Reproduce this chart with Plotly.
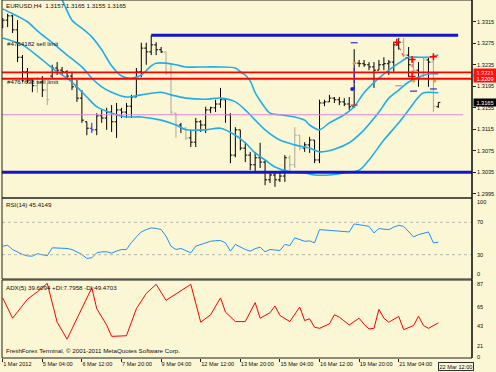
import plotly.graph_objects as go

W, H = 496, 372
FONT = "Liberation Sans"
BG = "#FBF6D3"

TITLE = "EURUSD,H4  1.3157 1.3165 1.3155 1.3165"

# ---------------- price bars (H4) ----------------
BAR = list(range(89))
OPEN = [1.3305, 1.3318, 1.3326, 1.3300, 1.3249, 1.3222, 1.3207, 1.3196, 1.3203, 1.3188,
        1.3214, 1.3229, 1.3225, 1.3222, 1.3214, 1.3194, 1.3173, 1.3129, 1.3117, 1.3114,
        1.3140, 1.3136, 1.3147, 1.3129, 1.3151, 1.3147, 1.3158, 1.3175, 1.3222, 1.3266,
        1.3259, 1.3272, 1.3263, 1.3259, 1.3220, 1.3145, 1.3123, 1.3117, 1.3099, 1.3091,
        1.3129, 1.3123, 1.3151, 1.3155, 1.3162, 1.3170, 1.3142, 1.3067, 1.3114, 1.3080,
        1.3067, 1.3049, 1.3062, 1.3054, 1.3021, 1.3030, 1.3021, 1.3028, 1.3062, 1.3049,
        1.3104, 1.3080, 1.3086, 1.3095, 1.3058, 1.3164, 1.3166, 1.3173, 1.3170, 1.3166,
        1.3162, 1.3157, 1.3238, 1.3237, 1.3235, 1.3231, 1.3225, 1.3235, 1.3237, 1.3240,
        1.3272, 1.3277, 1.3253, 1.3235, 1.3225, 1.3216, 1.3244, 1.3240, 1.3157]
HIGH = [1.3322, 1.3330, 1.3328, 1.3318, 1.3253, 1.3229, 1.3210, 1.3212, 1.3214, 1.3201,
        1.3235, 1.3240, 1.3231, 1.3225, 1.3222, 1.3207, 1.3188, 1.3129, 1.3127, 1.3145,
        1.3151, 1.3155, 1.3160, 1.3164, 1.3155, 1.3164, 1.3179, 1.3229, 1.3276, 1.3276,
        1.3290, 1.3277, 1.3268, 1.3259, 1.3235, 1.3145, 1.3127, 1.3119, 1.3114, 1.3136,
        1.3132, 1.3157, 1.3157, 1.3170, 1.3192, 1.3170, 1.3145, 1.3119, 1.3114, 1.3091,
        1.3073, 1.3073, 1.3090, 1.3058, 1.3036, 1.3036, 1.3034, 1.3067, 1.3067, 1.3119,
        1.3104, 1.3091, 1.3101, 1.3095, 1.3170, 1.3170, 1.3179, 1.3175, 1.3175, 1.3173,
        1.3175, 1.3264, 1.3244, 1.3244, 1.3240, 1.3240, 1.3244, 1.3249, 1.3244, 1.3277,
        1.3285, 1.3285, 1.3268, 1.3248, 1.3240, 1.3249, 1.3249, 1.3253, 1.3165]
LOW = [1.3303, 1.3305, 1.3294, 1.3240, 1.3203, 1.3201, 1.3184, 1.3183, 1.3175, 1.3160,
       1.3210, 1.3216, 1.3216, 1.3210, 1.3188, 1.3166, 1.3127, 1.3104, 1.3108, 1.3104,
       1.3127, 1.3114, 1.3110, 1.3099, 1.3136, 1.3136, 1.3136, 1.3175, 1.3212, 1.3235,
       1.3253, 1.3253, 1.3257, 1.3216, 1.3142, 1.3099, 1.3108, 1.3095, 1.3082, 1.3082,
       1.3110, 1.3108, 1.3145, 1.3147, 1.3155, 1.3127, 1.3052, 1.3063, 1.3076, 1.3054,
       1.3039, 1.3034, 1.3043, 1.3011, 1.3015, 1.3008, 1.3017, 1.3017, 1.3036, 1.3043,
       1.3076, 1.3073, 1.3071, 1.3052, 1.3052, 1.3158, 1.3166, 1.3164, 1.3160, 1.3158,
       1.3151, 1.3155, 1.3231, 1.3231, 1.3225, 1.3192, 1.3225, 1.3225, 1.3216, 1.3222,
       1.3263, 1.3249, 1.3212, 1.3216, 1.3194, 1.3212, 1.3194, 1.3147, 1.3155]
CLOSE = [1.3318, 1.3326, 1.3300, 1.3249, 1.3222, 1.3207, 1.3196, 1.3203, 1.3188, 1.3170,
         1.3229, 1.3225, 1.3222, 1.3214, 1.3194, 1.3173, 1.3132, 1.3117, 1.3114, 1.3140,
         1.3136, 1.3147, 1.3129, 1.3151, 1.3147, 1.3158, 1.3175, 1.3222, 1.3266, 1.3259,
         1.3272, 1.3263, 1.3259, 1.3220, 1.3147, 1.3123, 1.3117, 1.3099, 1.3091, 1.3129,
         1.3123, 1.3151, 1.3155, 1.3162, 1.3170, 1.3142, 1.3067, 1.3114, 1.3080, 1.3067,
         1.3049, 1.3062, 1.3054, 1.3021, 1.3030, 1.3021, 1.3028, 1.3062, 1.3049, 1.3104,
         1.3080, 1.3086, 1.3095, 1.3058, 1.3164, 1.3166, 1.3173, 1.3170, 1.3166, 1.3162,
         1.3157, 1.3238, 1.3237, 1.3235, 1.3231, 1.3225, 1.3235, 1.3237, 1.3240, 1.3272,
         1.3277, 1.3253, 1.3235, 1.3225, 1.3210, 1.3244, 1.3240, 1.3158, 1.3165]
GRAY_BARS = [7, 9, 33, 34, 35, 37, 58, 59, 60, 81, 83, 85, 87]
BLUE_BARS = [18]

# ---------------- Bollinger bands (sampled at bars) ----------------
BB_UP_X = [11, 12, 14, 16, 18, 20, 22, 24, 26, 28, 30, 31, 33, 35, 37, 41, 44, 47, 48, 49,
           50, 51, 52, 53, 54, 56, 59, 61, 62, 64, 66, 69, 71, 73, 76, 78, 80, 82, 84, 86, 88]
BB_UP = [1.3372, 1.3356, 1.3318, 1.3303, 1.3287, 1.3263, 1.3233, 1.3214, 1.3210, 1.3216,
         1.3233, 1.3238, 1.3238, 1.3235, 1.3231, 1.3231, 1.3231, 1.3229, 1.3222, 1.3216,
         1.3205, 1.3183, 1.3168, 1.3155, 1.3145, 1.3142, 1.3138, 1.3132, 1.3123, 1.3114,
         1.3127, 1.3142, 1.3157, 1.3183, 1.3210, 1.3225, 1.3238, 1.3249, 1.3249, 1.3249, 1.3253]
BB_MID_X = [0, 2, 5, 7, 10, 13, 16, 18, 20, 22, 25, 28, 32, 34, 37, 41, 44, 47, 49, 51,
            53, 56, 59, 62, 64, 67, 70, 73, 76, 78, 80, 82, 84, 86, 88]
BB_MID = [1.3339, 1.3330, 1.3315, 1.3298, 1.3276, 1.3253, 1.3231, 1.3210, 1.3194, 1.3184,
          1.3175, 1.3179, 1.3184, 1.3179, 1.3173, 1.3171, 1.3173, 1.3166, 1.3151, 1.3132,
          1.3114, 1.3095, 1.3086, 1.3080, 1.3073, 1.3078, 1.3090, 1.3114, 1.3147, 1.3173,
          1.3188, 1.3203, 1.3212, 1.3218, 1.3218]
BB_LOW_X = [0, 4, 8, 11, 13, 15, 17, 19, 22, 25, 28, 32, 35, 37, 41, 44, 47, 49, 51, 53,
            55, 58, 61, 63, 66, 69, 72, 74, 77, 80, 82, 84, 85, 88]
BB_LOW = [1.3285, 1.3272, 1.3244, 1.3222, 1.3210, 1.3194, 1.3175, 1.3157, 1.3145, 1.3138,
          1.3138, 1.3132, 1.3123, 1.3114, 1.3114, 1.3117, 1.3104, 1.3090, 1.3071, 1.3058,
          1.3045, 1.3036, 1.3034, 1.3030, 1.3030, 1.3034, 1.3039, 1.3058, 1.3095, 1.3127,
          1.3151, 1.3175, 1.3183, 1.3183]

# ---------------- horizontal levels / objects ----------------
RESIST_LEVEL = 1.3290          # blue trendline (bars 30 .. 92)
RESIST_SPAN = [30, 92]
SUPPORT_LEVEL = 1.3035         # blue, full width
SELL_LIMITS = [1.3221, 1.3209]  # red order lines
PINK_LEVEL = 1.3142
PINK_SPAN = [-1, 93]
LAST_PRICE = 1.3165
ORDER_TEXTS = ["#4764182 sell limit", "#4767698 sell limit"]
ORDER_TEXT_PRICE = [1.3275, 1.3203]

# ---------------- RSI(14) ----------------
RSI = [40.5, 41.7, 36.4, 33.0, 30.3, 28.5, 28.2, 31.2, 30.0, 28.7,
       38.5, 38.5, 38.0, 37.7, 36.4, 33.0, 30.3, 25.4, 26.2, 32.4,
       33.5, 33.6, 31.9, 34.5, 36.4, 36.4, 45.0, 52.0, 58.1, 61.0,
       63.1, 62.5, 61.0, 52.8, 40.5, 36.4, 37.7, 35.0, 32.4, 40.5,
       42.6, 44.5, 46.6, 47.3, 47.5, 44.6, 34.4, 42.6, 39.3, 36.5,
       34.4, 37.5, 39.3, 33.6, 36.4, 35.8, 35.2, 42.6, 41.3, 50.8,
       48.5, 46.6, 47.0, 44.6, 61.0, 60.5, 60.1, 59.5, 59.0, 58.5,
       58.1, 68.0, 67.0, 66.3, 65.0, 56.9, 62.2, 61.5, 61.0, 64.0,
       66.3, 65.0, 58.0, 52.0, 54.8, 56.5, 58.1, 44.6, 45.4]
RSI_LEVELS = [70, 30]
RSI_TICKS = [100, 70, 30, 0]

# ---------------- ADX(5) ----------------
ADX_X = [0, 2, 5, 7, 9, 10, 11, 13, 16, 18, 19, 21, 22, 25, 27, 29, 31, 33, 38, 40,
         42, 44, 45, 47, 49, 51, 52, 54, 55, 56, 58, 60, 61, 62, 63, 64, 66, 67, 68, 70,
         72, 73, 74, 75, 76, 77, 78, 80, 81, 83, 84, 85, 86, 88]
ADX = [67.8, 44.9, 66.3, 74.7, 84.2, 63.0, 40.4, 21.3, 55.6, 79.2, 55.6, 37.3, 24.4, 25.1,
       55.6, 72.8, 83.1, 65.1, 83.1, 40.4, 48.8, 67.8, 51.8, 41.1, 41.1, 62.5, 44.9, 51.1,
       58.7, 48.0, 41.1, 57.5, 42.3, 44.2, 34.7, 33.5, 38.5, 48.8, 46.1, 37.3, 44.9, 38.0,
       32.8, 33.5, 54.9, 44.9, 40.4, 46.9, 32.0, 36.6, 47.2, 36.6, 33.5, 39.6]
ADX_TICKS = [87, 65, 43, 21, 0]

X_TICKS = [0, 8, 16, 24, 32, 40, 48, 56, 64, 72, 80, 88]
X_LABELS = ["1 Mar 2012", "5 Mar 04:00", "6 Mar 12:00", "7 Mar 20:00", "9 Mar 04:00",
            "12 Mar 12:00", "13 Mar 20:00", "15 Mar 04:00", "16 Mar 12:00",
            "19 Mar 20:00", "21 Mar 04:00", "22 Mar 12:00"]
PRICE_TICKS = [1.2995, 1.3035, 1.3075, 1.3115, 1.3155, 1.3195, 1.3235, 1.3275, 1.3315]

# ---------------- layout geometry (pixels) ----------------
PX_L, PX_R = 2, 472
MAIN_T, MAIN_B = 0, 198
RSI_T, RSI_B = 198, 279
ADX_T, ADX_B = 280, 358


def px(x):
    return x / W


def py(y):
    return 1 - y / H


fig = go.Figure()


def subset(idx):
    return ([BAR[i] for i in idx], [OPEN[i] for i in idx], [HIGH[i] for i in idx],
            [LOW[i] for i in idx], [CLOSE[i] for i in idx])


black_idx = [i for i in BAR if i not in GRAY_BARS and i not in BLUE_BARS]
for idx, col in [(black_idx, "#000000"), (GRAY_BARS, "#A9A99C"), (BLUE_BARS, "#1A1AE6")]:
    bx, bo, bh, bl, bc = subset(idx)
    fig.add_trace(go.Ohlc(x=bx, open=bo, high=bh, low=bl, close=bc, xaxis="x", yaxis="y",
                          tickwidth=0.4,
                          increasing=dict(line=dict(color=col, width=1)),
                          decreasing=dict(line=dict(color=col, width=1)),
                          showlegend=False, hoverinfo="skip"))

BB_COL = "#1FAEEA"
for bxs, bys in [(BB_UP_X, BB_UP), (BB_MID_X, BB_MID), (BB_LOW_X, BB_LOW)]:
    fig.add_trace(go.Scatter(x=bxs, y=bys, mode="lines", xaxis="x", yaxis="y",
                             line=dict(color=BB_COL, width=1.6, shape="spline", smoothing=0.8),
                             showlegend=False, hoverinfo="skip", cliponaxis=True))

# horizontal levels
fig.add_trace(go.Scatter(x=RESIST_SPAN, y=[RESIST_LEVEL] * 2, mode="lines", xaxis="x", yaxis="y",
                         line=dict(color="#1414C8", width=3), showlegend=False, hoverinfo="skip"))
fig.add_trace(go.Scatter(x=PINK_SPAN, y=[PINK_LEVEL] * 2, mode="lines", xaxis="x", yaxis="y",
                         line=dict(color="#DA86DA", width=1), showlegend=False, hoverinfo="skip"))
for lvl in SELL_LIMITS:
    fig.add_shape(type="line", xref="paper", yref="y", x0=px(PX_L), x1=px(PX_R), y0=lvl, y1=lvl,
                  line=dict(color="#FF0000", width=1.8))
fig.add_shape(type="line", xref="paper", yref="y", x0=px(PX_L), x1=px(PX_R),
              y0=SUPPORT_LEVEL, y1=SUPPORT_LEVEL, line=dict(color="#1414C8", width=3))

# trade markers
TRADE_LINE_X = [71, 71]
TRADE_LINE_Y = [1.3190, 1.3238]
fig.add_trace(go.Scatter(x=TRADE_LINE_X, y=TRADE_LINE_Y, mode="lines", xaxis="x", yaxis="y",
                         line=dict(color="#2020E0", width=1, dash="dot"),
                         showlegend=False, hoverinfo="skip"))
fig.add_trace(go.Scatter(x=[70.6], y=[1.3190], mode="markers", xaxis="x", yaxis="y",
                         marker=dict(color="#2020E0", size=4), showlegend=False, hoverinfo="skip"))
RED_PATH_X = [79.6, 81, 82.7, 82.7]
RED_PATH_Y = [1.3277, 1.3250, 1.3245, 1.3213]
fig.add_trace(go.Scatter(x=RED_PATH_X, y=RED_PATH_Y, mode="lines", xaxis="x", yaxis="y",
                         line=dict(color="#FF2020", width=1, dash="dot"),
                         showlegend=False, hoverinfo="skip"))
CROSS_X = [79.6, 82.7, 82.7, 87]
CROSS_Y = [1.3277, 1.3245, 1.3213, 1.3250]
fig.add_trace(go.Scatter(x=CROSS_X, y=CROSS_Y, mode="markers", xaxis="x", yaxis="y",
                         marker=dict(symbol="cross-thin", size=5, line=dict(color="#FF0000", width=1.5)),
                         showlegend=False, hoverinfo="skip"))
ORANGE_X = [71, 83, 87.3]
ORANGE_Y = [1.3238, 1.3205, 1.3205]
fig.add_trace(go.Scatter(x=ORANGE_X, y=ORANGE_Y, mode="markers", xaxis="x", yaxis="y",
                         marker=dict(symbol="circle", size=3, color="#E0A030"),
                         showlegend=False, hoverinfo="skip"))
DASH_X = [71, 71, 80, 83, 87]
DASH_Y = [1.3276, 1.3160, 1.3196, 1.3186, 1.3190]
DASH_C = ["#3030D0", "#E02020", "#B090E0", "#3030D0", "#3030D0"]
fig.add_trace(go.Scatter(x=DASH_X, y=DASH_Y, mode="markers", xaxis="x", yaxis="y",
                         marker=dict(symbol="line-ew", size=5, line=dict(color=DASH_C, width=1.2)),
                         showlegend=False, hoverinfo="skip"))

# RSI
for lvl in RSI_LEVELS:
    fig.add_shape(type="line", xref="paper", yref="y2", x0=px(PX_L), x1=px(PX_R), y0=lvl, y1=lvl,
                  line=dict(color="#B8B8A8", width=1, dash="dot"))
fig.add_trace(go.Scatter(x=BAR, y=RSI, mode="lines", xaxis="x", yaxis="y2",
                         line=dict(color="#1E90FF", width=1), showlegend=False, hoverinfo="skip"))

# ADX
fig.add_trace(go.Scatter(x=ADX_X, y=ADX, mode="lines", xaxis="x", yaxis="y3",
                         line=dict(color="#FF0000", width=1), showlegend=False, hoverinfo="skip"))

# panel frames and right axis line
for t, b in [(MAIN_T, MAIN_B), (RSI_T, RSI_B), (ADX_T, ADX_B)]:
    fig.add_shape(type="rect", xref="paper", yref="paper", x0=px(PX_L), x1=px(PX_R),
                  y0=py(b), y1=py(t), line=dict(color="#202020", width=1))
fig.add_shape(type="line", xref="paper", yref="paper", x0=px(PX_R), x1=px(PX_R),
              y0=py(ADX_B), y1=1, line=dict(color="#101010", width=1.2))

TXT = dict(family=FONT, size=6.2, color="#101010")
ann = []
ann.append(dict(text=TITLE, xref="paper", yref="paper", x=px(4), y=py(6), xanchor="left",
                yanchor="middle", showarrow=False, font=TXT))
for t, p in zip(ORDER_TEXTS, ORDER_TEXT_PRICE):
    ann.append(dict(text=t, xref="paper", yref="y", x=px(5), y=p, xanchor="left",
                    yanchor="middle", showarrow=False, font=TXT))
ann.append(dict(text="RSI(14) 45.4149", xref="paper", yref="paper", x=px(4), y=py(205),
                xanchor="left", yanchor="middle", showarrow=False, font=TXT))
ann.append(dict(text="ADX(5) 39.6094 +DI:7.7958 -DI:49.4703", xref="paper", yref="paper",
                x=px(4), y=py(287), xanchor="left", yanchor="middle", showarrow=False, font=TXT))
ann.append(dict(text="FreshForex Terminal, \u00a9 2001-2011 MetaQuotes Software Corp.",
                xref="paper", yref="paper", x=px(4), y=py(356), xanchor="left",
                yanchor="bottom", showarrow=False, font=TXT))

LBL = dict(family=FONT, size=5.6, color="#101010")
for lvl in SELL_LIMITS:
    ann.append(dict(text=f"{lvl:.4f}", xref="paper", yref="y", x=px(PX_R + 1), y=lvl,
                    xanchor="left", yanchor="middle", showarrow=False,
                    font=dict(family=FONT, size=5.6, color="#FFFFFF"), bgcolor="#FF1010",
                    borderpad=0.5, width=21))
ann.append(dict(text=f"{LAST_PRICE:.4f}", xref="paper", yref="y", x=px(PX_R + 1), y=LAST_PRICE,
                xanchor="left", yanchor="middle", showarrow=False,
                font=dict(family=FONT, size=5.6, color="#FFFFFF"), bgcolor="#000000",
                borderpad=0.5, width=21))
RSI_SHIFT = {100: -3.5, 70: 0, 30: 0, 0: 5}
for v in RSI_TICKS:
    ann.append(dict(text=str(v), xref="paper", yref="y2", x=px(PX_R + 3), y=v, yshift=RSI_SHIFT[v],
                    xanchor="left", yanchor="middle", showarrow=False, font=LBL))
ADX_SHIFT = {87: -3.4, 65: -6.3, 43: -6.1, 21: -6.3, 0: 1}
for v in ADX_TICKS:
    ann.append(dict(text=str(v), xref="paper", yref="y3", x=px(PX_R + 3), y=v, yshift=ADX_SHIFT[v],
                    xanchor="left", yanchor="middle", showarrow=False, font=LBL))
ann.append(dict(text=X_LABELS[-1], xref="x", yref="paper", x=X_TICKS[-1], y=py(366),
                xanchor="left", yanchor="middle", showarrow=False, font=LBL,
                bordercolor="#303030", borderwidth=1, borderpad=0.5, bgcolor=BG))

fig.update_layout(
    width=W, height=H, margin=dict(l=0, r=0, t=0, b=0, autoexpand=False),
    paper_bgcolor=BG, plot_bgcolor=BG, showlegend=False,
    annotations=ann,
    xaxis=dict(domain=[px(PX_L), px(PX_R)], range=[-0.14, 94.8], anchor="y3",
               rangeslider=dict(visible=False), showgrid=False, zeroline=False,
               tickvals=X_TICKS[:-1], ticktext=X_LABELS[:-1], ticks="outside", ticklen=3,
               tickcolor="#202020", ticklabelposition="outside right", tickangle=0,
               tickfont=LBL, showline=False, automargin=False),
    yaxis=dict(domain=[py(MAIN_B), py(MAIN_T)], range=[1.29872, 1.33555], side="right",
               anchor="x", showgrid=False, zeroline=False, tickvals=PRICE_TICKS,
               tickformat=".4f", ticks="outside", ticklen=3, tickcolor="#202020",
               tickfont=LBL, showline=False, automargin=False),
    yaxis2=dict(domain=[py(RSI_B), py(RSI_T)], range=[0, 100], side="right", anchor="x",
                showgrid=False, zeroline=False, showticklabels=False, ticks="",
                automargin=False),
    yaxis3=dict(domain=[py(ADX_B), py(ADX_T)], range=[0, 88], side="right", anchor="x",
                showgrid=False, zeroline=False, showticklabels=False, ticks="",
                automargin=False),
)

fig.write_html("out.html", config={"displayModeBar": False},
               post_script="document.body.style.margin='0';document.body.style.padding='0';"
                           "document.documentElement.style.background='" + BG + "';")
